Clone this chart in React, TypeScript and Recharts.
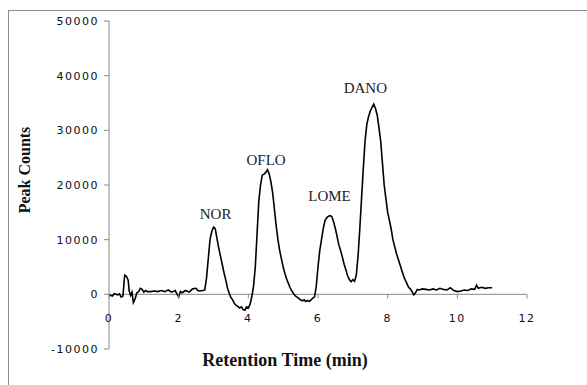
import { LineChart, Line, XAxis, YAxis, ReferenceLine, ReferenceDot, Label } from "recharts";

// retention time (min) and detector response
const times = [
  0, 0.05, 0.1, 0.15, 0.2, 0.25, 0.3, 0.35, 0.4, 0.45, 0.5, 0.55, 0.58, 0.62, 0.66, 0.7, 0.75, 0.8, 0.85, 0.9,
  0.95, 1.0, 1.05, 1.1, 1.2, 1.3, 1.4, 1.5, 1.6, 1.7, 1.8, 1.9, 2.0, 2.05, 2.1, 2.2, 2.3, 2.4, 2.5, 2.55,
  2.6, 2.7, 2.75, 2.8, 2.85, 2.9, 2.95, 3.0, 3.05, 3.1, 3.15, 3.2, 3.25, 3.3, 3.35, 3.4, 3.45, 3.5, 3.55, 3.6,
  3.65, 3.7, 3.75, 3.8, 3.85, 3.9, 3.95, 4.0, 4.05, 4.1, 4.15, 4.2, 4.25, 4.3, 4.35, 4.4, 4.45, 4.5, 4.55, 4.6,
  4.65, 4.7, 4.75, 4.8, 4.85, 4.9, 4.95, 5.0, 5.05, 5.1, 5.15, 5.2, 5.25, 5.3, 5.35, 5.4, 5.45, 5.5, 5.55, 5.6,
  5.65, 5.7, 5.75, 5.8, 5.85, 5.9, 5.95, 6.0, 6.05, 6.1, 6.15, 6.2, 6.25, 6.3, 6.35, 6.4, 6.45, 6.5, 6.55, 6.6,
  6.65, 6.7, 6.75, 6.8, 6.85, 6.9, 6.95, 7.0, 7.05, 7.1, 7.15, 7.2, 7.25, 7.3, 7.35, 7.4, 7.45, 7.5, 7.55, 7.6,
  7.65, 7.7, 7.75, 7.8, 7.85, 7.9, 7.95, 8.0, 8.05, 8.1, 8.15, 8.2, 8.25, 8.3, 8.35, 8.4, 8.45, 8.5, 8.55, 8.6,
  8.65, 8.7, 8.75, 8.8, 8.85, 8.9, 9.0, 9.1, 9.2, 9.3, 9.4, 9.5, 9.6, 9.7, 9.8, 9.9, 10.0, 10.1, 10.2, 10.3,
  10.4, 10.5, 10.55, 10.6, 10.7, 10.8, 10.9, 11.0,
];
const counts = [
  0, -200, -300, 100, 0, -100, 100, -500, -300, 3500, 3300, 2600, 600, -200, 400, -1500, -800, 300, 500, 1100,
  900, 400, 700, 500, 500, 600, 500, 700, 500, 800, 400, 700, -500, 500, 300, 700, 400, 1000, 1100, 700,
  600, 700, 800, 3000, 6500, 10000, 11500, 12300, 12000, 10200, 8500, 7000, 5500, 4000, 2700, 1200, 200, -600, -1000, -1700,
  -2000, -2200, -2500, -2300, -2800, -2900, -2300, -2500, -1800, -400, 1500, 5000, 11000, 17000, 20000, 21800, 22000, 22300, 22800, 22000,
  20500, 18500, 15500, 12500, 10000, 8000, 6500, 5000, 3800, 2800, 2000, 1200, 600, 100, -300, -500, -800, -1000, -1200, -1000,
  -1300, -1100, -1300, -1000, -700, -500, 1500, 5000, 8000, 10000, 12000, 13500, 14000, 14300, 14400, 14200, 13200, 12000, 10500, 9000,
  8000, 6800, 5500, 4500, 3400, 2700, 2300, 2700, 2400, 3500, 7000, 12000, 17500, 23000, 28000, 31000, 32500, 33500, 34200, 34800,
  34000, 32800, 30500, 28000, 24000, 20000, 17500, 15000, 13500, 12000, 10000, 8800, 7500, 6500, 5500, 4500, 3500, 2700, 2000, 1300,
  1000, 500, -100, 300, 900, 800, 1000, 900, 800, 1000, 800, 1100, 900, 800, 1200, 700, 500, 600, 800, 700,
  1000, 900, 1700, 1100, 1300, 1100, 1200, 1200,
];

const peakNames = ["NOR", "OFLO", "LOME", "DANO"];
const peakLabelTimes = [3.06, 4.51, 6.33, 7.36];
const peakLabelCounts = [14700, 24600, 18000, 37800];

const xTicks = [0, 2, 4, 6, 8, 10, 12];
const yTicks = [-10000, 0, 10000, 20000, 30000, 40000, 50000];

const W = 587;
const H = 385;
const PLOT_TOP = 21;
const PLOT_H = 328;
const Y_MIN = -10000;
const Y_MAX = 50000;
const ZERO_Y = PLOT_TOP + (PLOT_H * Y_MAX) / (Y_MAX - Y_MIN);

const AXIS = "#888888";
const TICK_FONT = { fontFamily: "DejaVu Sans", fontSize: 11, fill: "#0d0d1a", letterSpacing: 1.5 };

const data = times.map((t, i) => ({ time: t, count: counts[i] }));

// x ticks sit on the zero line, not at the bottom of the plot
function ZeroTick(props: any) {
  const { x, payload } = props;
  return (
    <g>
      <line x1={x} x2={x} y1={ZERO_Y} y2={ZERO_Y + 4} stroke={AXIS} />
      <text x={x} y={ZERO_Y + 28} textAnchor="middle" {...TICK_FONT}>
        {payload.value}
      </text>
    </g>
  );
}

export default function App() {
  return (
    <div style={{ position: "absolute", left: 0, top: 0, width: W, height: H, overflow: "hidden", background: "#fff" }}>
      <div
        style={{
          position: "absolute",
          left: 8,
          top: 10,
          width: 579,
          height: 375,
          borderTop: "1px solid #8c8c8c",
          borderLeft: "1px solid #8c8c8c",
          boxSizing: "border-box",
        }}
      />
      <div style={{ position: "absolute", left: 0, top: 0 }}>
        <LineChart width={W} height={H} data={data} margin={{ top: PLOT_TOP, right: 60, bottom: 0, left: 0 }}>
          <XAxis
            dataKey="time"
            type="number"
            domain={[0, 12]}
            ticks={xTicks}
            axisLine={false}
            tickLine={false}
            height={36}
            tick={<ZeroTick />}
            interval={0}
          >
            <Label
              content={() => (
                <text
                  x={285}
                  y={366}
                  textAnchor="middle"
                  fontFamily="Liberation Serif"
                  fontWeight="bold"
                  fontSize={18}
                  fill="#111"
                >
                  Retention Time (min)
                </text>
              )}
            />
          </XAxis>
          <YAxis
            type="number"
            domain={[Y_MIN, Y_MAX]}
            ticks={yTicks}
            width={109}
            stroke={AXIS}
            tickSize={5}
            tickMargin={5}
            tick={TICK_FONT}
            interval={0}
          >
            <Label
              content={() => (
                <text
                  x={30}
                  y={170}
                  transform="rotate(-90, 30, 170)"
                  textAnchor="middle"
                  fontFamily="Liberation Serif"
                  fontWeight="bold"
                  fontSize={16}
                  fill="#111"
                >
                  Peak Counts
                </text>
              )}
            />
          </YAxis>
          <ReferenceLine y={0} stroke={AXIS} />
          <Line
            type="linear"
            dataKey="count"
            stroke="#000"
            strokeWidth={1.6}
            dot={false}
            isAnimationActive={false}
          />
          {peakNames.map((name, i) => (
            <ReferenceDot
              key={name}
              x={peakLabelTimes[i]}
              y={peakLabelCounts[i]}
              r={0}
              fill="none"
              stroke="none"
              label={{
                value: name,
                position: "center",
                fontFamily: "Liberation Serif",
                fontSize: 15,
                fill: "#222",
              }}
            />
          ))}
        </LineChart>
      </div>
    </div>
  );
}
